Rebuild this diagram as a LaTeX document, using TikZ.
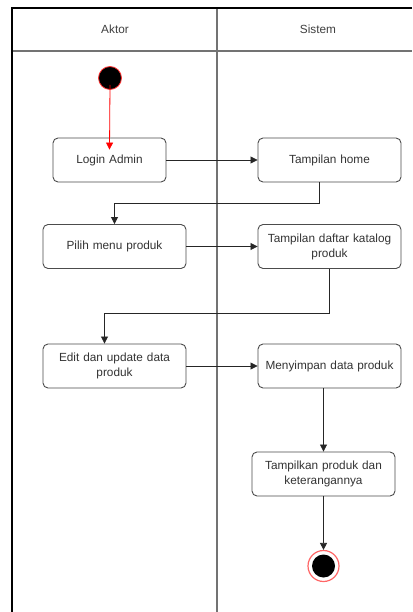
\documentclass[tikz,border=0pt]{standalone}
\usepackage{fontspec}
\setmainfont{Liberation Sans}
\usetikzlibrary{positioning,arrows.meta}

\tikzset{
  activity/.style={rectangle,rounded corners=5pt,draw=black!70,line width=0.9pt,
    minimum width=143pt,minimum height=44pt,align=center,text width=139pt,inner xsep=2pt,
    text=black!80,font=\fontsize{11.8}{15}\selectfont},
  flow/.style={draw=black!85,line width=0.8pt,-{Triangle[length=7pt,width=7pt]}},
  lane/.style={draw=black!55,line width=1.4pt}
}

\begin{document}
\begin{tikzpicture}[x=1pt,y=-1pt]
  \useasboundingbox[fill=white] (0,0) rectangle (412,612);

  % Swimlanes
  \draw[lane] (12,51) -- (412,51);
  \draw[lane] (217,8) -- (217,612);
  \draw[black,line width=1.4pt] (412,8) -- (12,8) -- (12,612);
  \node[text=black!75,font=\fontsize{11.8}{13}\selectfont] (aktor) at (115,29) {Aktor};
  \node[text=black!75,font=\fontsize{11.8}{13}\selectfont] (sistem) at (318,29) {Sistem};

  % Aktor
  \node[circle,fill=black,draw=red!80,line width=0.8pt,minimum size=23pt,inner sep=0pt] (start) at (110,78) {};
  \node[activity,minimum width=113pt,text width=109pt] (login) at (109.5,160) {Login Admin};
  \node[activity] (pilih) at (114.5,246.5) {Pilih menu produk};
  \node[activity] (edit) at (114.5,366) {Edit dan update data\\produk};

  % Sistem
  \node[activity] (home) at (329.5,160) {Tampilan home};
  \node[activity] (katalog) at (329.5,246.5) {Tampilan daftar katalog\\produk};
  \node[activity] (simpan) at (329.5,366) {Menyimpan data produk};
  \node[activity] (tampil) at (323.5,474) {Tampilkan produk dan\\keterangannya};
  \node[circle,draw=red!60,line width=1.2pt,minimum size=31pt,inner sep=0pt] (end) at (323.5,566) {};
  \node[circle,fill=black,minimum size=23pt,inner sep=0pt] (endin) at (end) {};

  \draw[flow,draw=red,red] ([yshift=5pt]start.south) -- ([yshift=-12pt]login.north);
  \draw[flow] (login) -- (home);
  \draw[flow] ([xshift=-10pt]home.south) -- ++(0,21) -| (pilih.north);
  \draw[flow] (pilih) -- (katalog);
  \draw[flow] (katalog.south) -- ++(0,44) -| ([xshift=-10pt]edit.north);
  \draw[flow] (edit) -- (simpan);
  \draw[flow] (tampil.north |- simpan.south) -- (tampil.north);
  \draw[flow] (tampil.south) -- (end.north);
\end{tikzpicture}
\end{document}
